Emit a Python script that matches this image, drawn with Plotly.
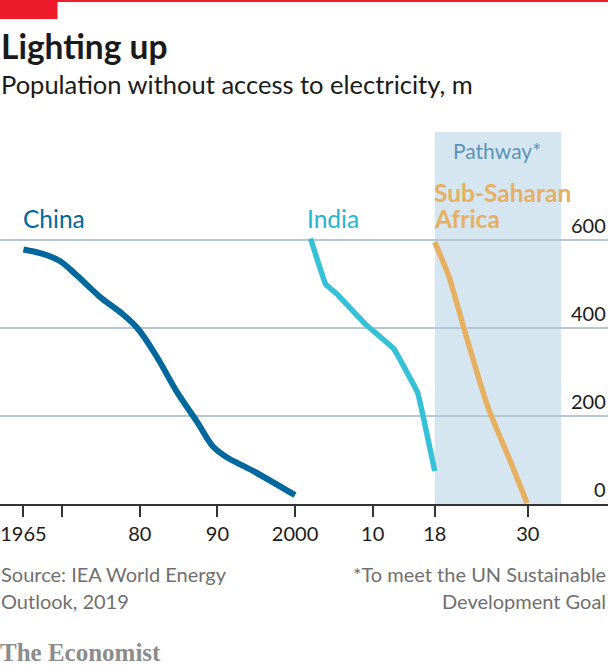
import plotly.graph_objects as go

china_years = [1965, 1967.5, 1969.7, 1971.9, 1974.9, 1977.8, 1979.8, 1982.2, 1984.8, 1987.4, 1989.4, 1991.2, 1994.6, 2000]
china_values = [578, 568, 552, 519, 470, 431, 397, 334, 254, 186, 131, 106, 75, 20]

india_years = [2002, 2003.95, 2005.4, 2009.1, 2012.7, 2015.8, 2016.4, 2018]
india_values = [603, 499, 477, 408, 353, 253, 208, 75]

ssa_years = [2018, 2019.8, 2021.8, 2024.8, 2027.8, 2029.9]
ssa_values = [595, 518, 397, 223, 95, 2]

x_ticks = [1965, 1970, 1980, 1990, 2000, 2010, 2018, 2030]
x_labels = ["1965", "", "80", "90", "2000", "10", "18", "30"]
y_ticks = [0, 200, 400, 600]

BLUE = "#00689d"
CYAN = "#37c1d6"
GOLD = "#e5b062"
GRID = "#b7c6d3"
DARK = "#1a1a1a"
GREY = "#6f6f6f"
RED = "#ee1c2a"
FONT = "Lato"

W, H = 608, 667
TOP, BOTTOM = 132, 163

fig = go.Figure()
fig.add_shape(type="rect", xref="x", yref="paper", x0=2018, x1=2034.3, y0=0, y1=1,
              fillcolor="#d6e6f0", line_width=0, layer="below")
for name, xs, ys, color, lw, smooth in [("China", china_years, china_values, BLUE, 6, 1.0),
                                        ("India", india_years, india_values, CYAN, 5.5, 0.2),
                                        ("Sub-Saharan Africa", ssa_years, ssa_values, GOLD, 5.5, 0.7)]:
    fig.add_trace(go.Scatter(x=xs, y=ys, mode="lines", name=name,
                             line=dict(color=color, width=lw, shape="spline", smoothing=smooth),
                             hoverinfo="name"))

fig.update_layout(
    width=W, height=H, margin=dict(l=0, r=0, t=TOP, b=BOTTOM, pad=0),
    paper_bgcolor="white", plot_bgcolor="rgba(0,0,0,0)", showlegend=False,
    font=dict(family=FONT, size=20, color=DARK),
    xaxis=dict(range=[1961.98, 2040.33], tickvals=x_ticks, ticktext=x_labels, showgrid=False,
               zeroline=False, showline=True, linecolor="#333", linewidth=1.5,
               ticks="outside", ticklen=11, tickcolor="#333", tickwidth=1.5,
               tickfont=dict(size=20, color=DARK), ticklabeloverflow="allow"),
    yaxis=dict(range=[0, 845], tickvals=y_ticks, showticklabels=False, showgrid=True,
               gridcolor=GRID, gridwidth=2, zeroline=False),
)


def label(x, y, text, size, color, anchor="left", family=FONT):
    # x and y are page pixels, converted to the paper coordinates of the plot area
    fig.add_annotation(x=x / W, y=(H - BOTTOM - y) / (H - TOP - BOTTOM),
                       xref="paper", yref="paper", text=text, showarrow=False,
                       xanchor=anchor, yanchor="middle", align=anchor,
                       font=dict(size=size, color=color, family=family),
                       borderpad=0, borderwidth=0)


for v in y_ticks:
    label(606, 505 - v * 0.44 - 16, str(v), 20, DARK, anchor="right")

label(1, 46, "<b>Lighting up</b>", 33.5, DARK)
label(1, 84, "Population without access to electricity, m", 25.5, DARK)
label(23, 218, "China", 24.5, BLUE)
label(307, 218, "India", 24.5, "#1fb5cf")
label(434, 192, "<b>Sub-Saharan</b>", 24.5, GOLD)
label(434, 218, "<b>Africa</b>", 24.5, GOLD)
label(497, 150, "Pathway*", 21, "#5a93b8", anchor="center")
label(1, 574, "Source: IEA World Energy", 20, GREY)
label(1, 601, "Outlook, 2019", 20, GREY)
label(606, 574, "*To meet the UN Sustainable", 20, GREY, anchor="right")
label(606, 601, "Development Goal", 20, GREY, anchor="right")
label(0, 652, "<b>The Economist</b>", 25, "#8c8c8c", family="Liberation Serif")

fig.add_shape(type="rect", xref="paper", yref="paper", x0=0, x1=1,
              y0=(H - BOTTOM - 2) / (H - TOP - BOTTOM), y1=(H - BOTTOM) / (H - TOP - BOTTOM),
              fillcolor=RED, line_width=0)
fig.add_shape(type="rect", xref="paper", yref="paper", x0=0, x1=57.5 / W,
              y0=(H - BOTTOM - 19) / (H - TOP - BOTTOM), y1=(H - BOTTOM) / (H - TOP - BOTTOM),
              fillcolor=RED, line_width=0)

fig.write_html("out.html", config=dict(displayModeBar=False),
               post_script="document.body.style.margin='0';")
